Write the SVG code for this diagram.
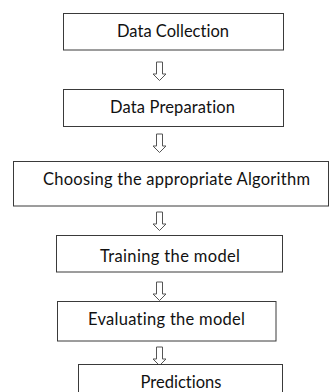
<svg xmlns="http://www.w3.org/2000/svg" width="329" height="392" viewBox="0 0 329 392">
  <style>
    .box { fill: #ffffff; stroke: #3a3a3a; stroke-width: 1; }
    .label { font-family: Lato, "Open Sans", sans-serif; font-size: 16.5px; fill: #111111; text-anchor: middle; font-variant-ligatures: none; }
    .arrow { fill: #ffffff; stroke: #555555; stroke-width: 1; }
  </style>
  <defs>
    <!-- hollow down arrow, origin at top centre of the shaft -->
    <path id="down" class="arrow" d="M -3,0 H 3 V 12 H 6.5 L 0,18.5 L -6.5,12 H -3 Z"/>
  </defs>
  <rect width="329" height="392" fill="#ffffff"/>

  <g id="connectors">
    <use href="#down" x="159.5" y="62"/>
    <use href="#down" x="159.5" y="134"/>
    <use href="#down" x="159.5" y="212"/>
    <use href="#down" x="159.5" y="282"/>
    <use href="#down" x="159.5" y="347"/>
  </g>

  <g id="data-collection">
    <rect class="box" x="63.5" y="13.5" width="220" height="36.5"/>
    <text class="label" x="173" y="37" textLength="112">Data Collection</text>
  </g>
  <g id="data-preparation">
    <rect class="box" x="63.5" y="89.5" width="220" height="37"/>
    <text class="label" x="172.5" y="113" textLength="125">Data Preparation</text>
  </g>
  <g id="choosing-algorithm">
    <rect class="box" x="13.5" y="161.5" width="315" height="44.5"/>
    <text class="label" x="176.5" y="185" textLength="267">Choosing the appropriate Algorithm</text>
  </g>
  <g id="training">
    <rect class="box" x="56.5" y="235.5" width="226" height="36.5"/>
    <text class="label" x="170" y="261.5" textLength="140">Training the model</text>
  </g>
  <g id="evaluating">
    <rect class="box" x="57.5" y="301.5" width="218.5" height="39.5"/>
    <text class="label" x="166.5" y="325" textLength="157">Evaluating the model</text>
  </g>
  <g id="predictions">
    <rect class="box" x="78.5" y="364.5" width="204" height="40"/>
    <text class="label" x="181" y="388" textLength="81">Predictions</text>
  </g>
</svg>
